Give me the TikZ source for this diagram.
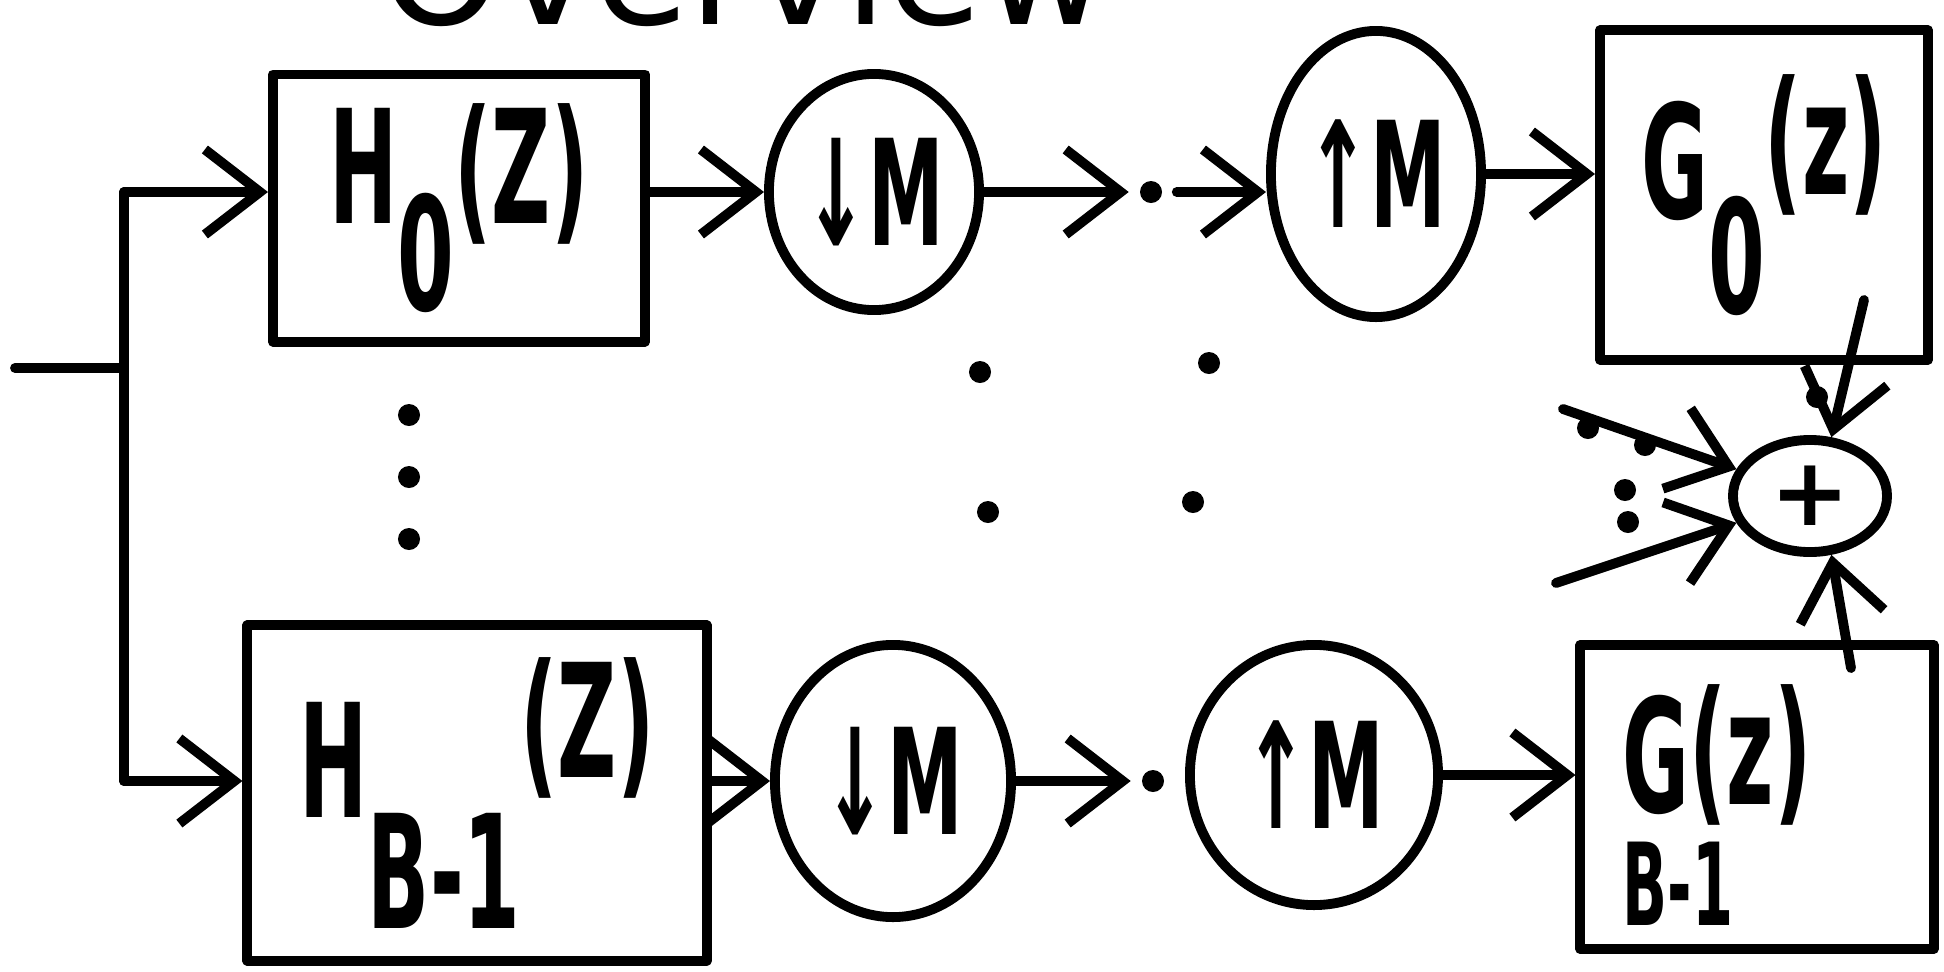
\documentclass[tikz,border=0pt]{standalone}
\usepackage{fontspec}
\setmainfont{DejaVu Sans}
\usepackage{graphicx}
\usetikzlibrary{arrows.meta,shapes.geometric}
\newcommand\tall[1]{\scalebox{0.8}[1.55]{#1}}
\tikzset{
  pen/.style={line width=2.8pt, line cap=round, line join=round},
  arr/.style={pen, -{Straight Barb[length=5.5mm,width=8.5mm]}},
  blk/.style={pen, draw, rectangle, inner sep=0pt},
  opc/.style={pen, draw, ellipse, inner sep=0pt},
  dotn/.style={circle, fill, inner sep=0pt, minimum size=2.2mm},
  big/.style={font=\fontsize{29}{34}\selectfont\bfseries},
  mid/.style={font=\fontsize{27}{30}\selectfont\bfseries}
}
\begin{document}
\begin{tikzpicture}[x=0.01cm, y=-0.01cm]
\useasboundingbox (0,0) rectangle (1944,972);

% title (cut by the top edge, as in the reference)
\node[anchor=base west, font=\fontsize{44}{44}\selectfont, inner sep=0pt] (title) at (380,24) {Overview};

% blocks
\node[blk, big, minimum width=3.72cm, minimum height=2.67cm] (H0) at (459,208)
  {\tall{H\raisebox{-0.55em}{0}(Z)}};
\node[opc, mid, minimum width=2.1cm, minimum height=2.36cm] (dM0) at (874,192) {\tall{↓M}};
\node[dotn] (dt0) at (1151,192) {};
\node[opc, mid, minimum width=2.1cm, minimum height=2.86cm] (uM0) at (1376,174) {\tall{↑M}};
\node[blk, big, minimum width=3.28cm, minimum height=3.29cm] (G0) at (1764,195)
  {\tall{G\raisebox{-0.6em}{0}\raisebox{0.15em}{(z)}}};
\node[opc, mid, minimum width=1.54cm, minimum height=1.12cm] (sum) at (1810,496) {+};

\node[blk, big, minimum width=4.59cm, minimum height=3.35cm] (HB) at (477,793)
  {\tall{H\raisebox{-0.7em}{B-1}\raisebox{0.25em}{(Z)}}};
\node[opc, mid, minimum width=2.36cm, minimum height=2.72cm] (dMB) at (893,781) {\tall{↓M}};
\node[dotn] (dtB) at (1153,781) {};
\node[opc, mid, minimum width=2.48cm, minimum height=2.6cm] (uMB) at (1314,775) {\tall{↑M}};
\node[blk, big, minimum width=3.53cm, minimum height=3.04cm] (GB) at (1757,797)
  {\raisebox{-0.15cm}[0pt][0pt]{\tall{\rlap{\raisebox{-0.72em}{\fontsize{21}{21}\selectfont B-1}}G\raisebox{0.05em}{(z)}}}\kern0.8cm};

% input and split
\coordinate (in) at (15,368);
\coordinate (jm) at (124,368);
\coordinate (jt) at (124,192);
\coordinate (jb) at (124,781);
\draw[pen] (in) -- (jm);
\draw[pen] (jt) -- (jb);
\draw[arr] (jt) -- (H0.west |- jt);
\draw[arr] (jb) -- (HB.west |- jb);

% top branch
\draw[arr] (H0.east |- dM0) -- (dM0.west);
\draw[arr, shorten >=3pt] (dM0.east) -- (dt0);
\draw[arr, shorten <=4pt] (dt0) -- (uM0.west |- dt0);
\draw[arr] (uM0.east) -- (G0.west |- uM0.east);

% bottom branch
\draw[arr] (HB.east |- dMB) -- (dMB.west);
\draw[arr, shorten >=3pt] (dMB.east) -- (dtB);
\draw[arr] (uMB.east) -- (GB.west |- uMB.east);

% into the sum
\coordinate (g0o) at (1864,300);
\coordinate (gbo) at (1851,668);
\coordinate (l1) at (1563,409);
\coordinate (l2) at (1556,583);
\draw[arr] (g0o) -- (sum.70);
\draw[arr] (gbo) -- (sum.-70);
\draw[arr] (l1) -- (sum.160);
\draw[arr] (l2) -- (sum.200);

% ellipsis dots
\foreach \p [count=\i] in {(409,415),(409,477),(409,539),(980,372),(1209,363),(988,512),(1193,502),(1588,428),(1645,445),(1625,490),(1628,522),(1817,397)}
  \node[dotn] (e\i) at \p {};
\end{tikzpicture}
\end{document}
